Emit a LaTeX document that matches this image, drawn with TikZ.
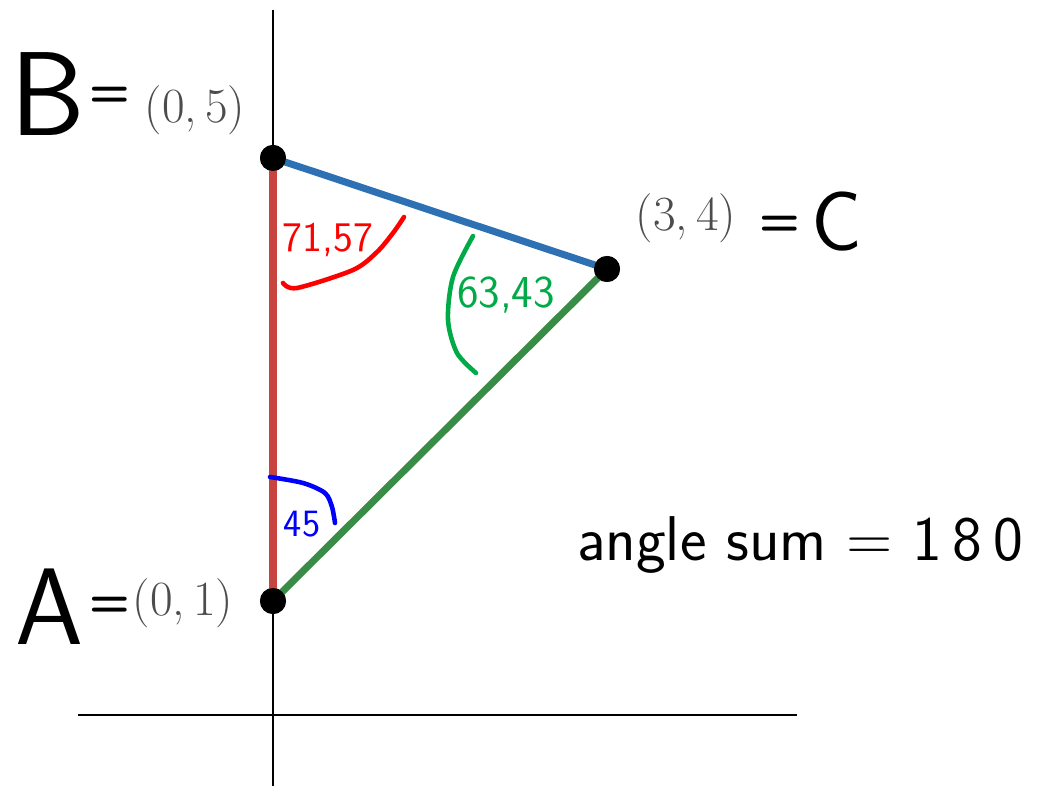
\documentclass[tikz,border=0pt]{standalone}
\usetikzlibrary{positioning,calc}
\definecolor{segred}{RGB}{199,68,64}
\definecolor{segblue}{RGB}{45,112,179}
\definecolor{seggreen}{RGB}{56,140,70}
\definecolor{inkred}{RGB}{255,0,0}
\definecolor{inkgreen}{RGB}{0,170,70}
\definecolor{inkblue}{RGB}{0,0,255}

\begin{document}
\begin{tikzpicture}[x=0.02cm,y=-0.02cm,
  dot/.style={circle,fill=black,inner sep=0pt,minimum size=0.52cm},
  coord/.style={text=black!70,font=\fontsize{28}{30}\selectfont,inner sep=0pt},
  hand/.style={font=\sffamily,inner sep=0pt},
  eqsign/.style={font=\sffamily\bfseries\fontsize{27}{28}\selectfont,inner sep=0pt},
  axis/.style={line width=1.4pt},
  seg/.style={line width=4pt},
  ink/.style={line width=2.6pt,line cap=round,line join=round}]
  \useasboundingbox (0,0) rectangle (1038,786);
  % axes
  \coordinate (ytop) at (273,10); \coordinate (ybot) at (273,786); \coordinate (xl) at (78,715); \coordinate (xr) at (797,715);
  \draw[axis] (ytop)--(ybot); \draw[axis] (xl)--(xr);
  % triangle
  \node[dot] (A) at (273,601) {}; \node[dot] (B) at (273,158) {}; \node[dot] (C) at (607,269) {};
  \draw[seg,segred] (A.center)--(B.center); \draw[seg,segblue] (B.center)--(C.center); \draw[seg,seggreen] (A.center)--(C.center);
  \node[dot] at (A) {}; \node[dot] at (B) {}; \node[dot] at (C) {};
  % coordinate labels
  \node[coord] (pb) at (195,110) {(0,\,5)}; \node[coord] (pc) at (686,218) {(3,\,4)}; \node[coord] (pa) at (183,603) {(0,\,1)};
  \node[hand,font=\sffamily\fontsize{68}{72}\selectfont] (nb) at (48,94) {B}; \node[eqsign] (eb) at (110,97) {=};
  \node[hand,font=\sffamily\fontsize{62}{66}\selectfont] (na) at (50,607) {A}; \node[eqsign] (ea) at (110,607) {=};
  \node[eqsign] (ec) at (780,226) {=}; \node[hand,font=\sffamily\fontsize{48}{52}\selectfont] (nc) at (837,222) {C};
  % angles
  \node[hand,text=inkred,font=\sffamily\fontsize{24}{26}\selectfont] (a1) at (328,240) {71,57};
  \node[hand,text=inkgreen,font=\sffamily\fontsize{26}{28}\selectfont] (a2) at (506,295) {63,43};
  \node[hand,text=inkblue,font=\sffamily\fontsize{22}{24}\selectfont] (a3) at (302,524) {45};
  \draw[ink,inkred] plot[smooth] coordinates {(283,283) (297,288) (353,270) (377,252) (393,233) (404,217)};
  \draw[ink,inkgreen] plot[smooth] coordinates {(473,236) (453,277) (448,320) (457,353) (476,373)};
  \draw[ink,inkblue] plot[smooth] coordinates {(270,477) (303,483) (325,493) (332,507) (335,523)};
  \node[hand,font=\sffamily\fontsize{36}{40}\selectfont] (sum) at (800,545) {angle sum = 1\,8\,0};
\end{tikzpicture}
\end{document}
